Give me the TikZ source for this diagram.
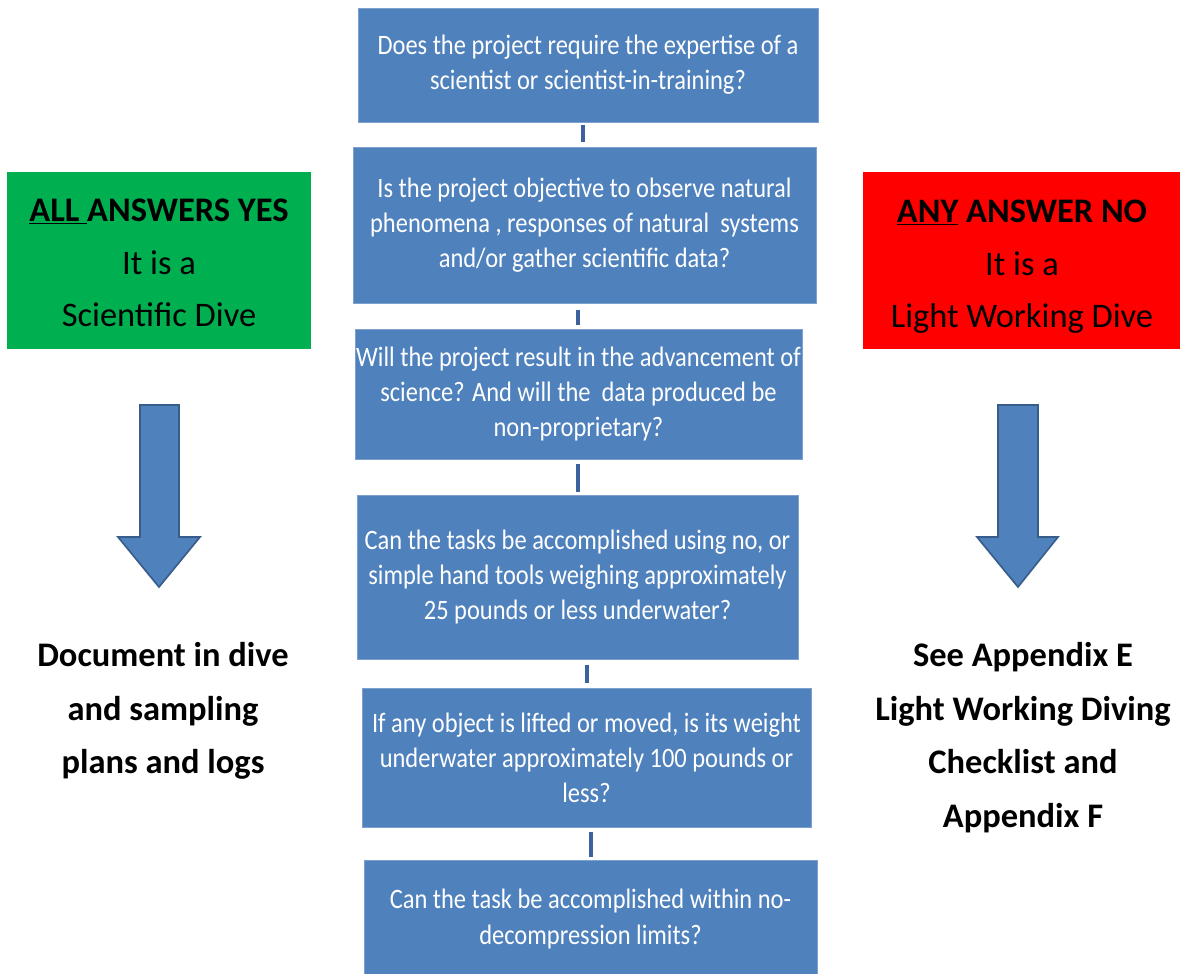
\documentclass[tikz,border=0pt]{standalone}
\usepackage{fontspec}
\setmainfont{Carlito}
\newfontfamily\qfont{Carlito}[FakeStretch=0.87]

\definecolor{qblue}{RGB}{79,129,189}
\definecolor{qedge}{RGB}{125,160,205}
\definecolor{linkblue}{RGB}{60,98,158}
\definecolor{arrowedge}{RGB}{56,93,138}
\definecolor{yesgreen}{RGB}{0,176,80}
\definecolor{nored}{RGB}{255,0,0}

\begin{document}
\begin{tikzpicture}
  [x=0.025cm,y=-0.025cm,
   question/.style={rectangle,fill=qblue,draw=qedge,line width=0.6pt,inner sep=0pt,
     text=white,align=center,font=\qfont\fontsize{20}{25}\selectfont},
   verdict/.style={rectangle,inner sep=0pt,text=black,align=center,
     minimum height=4.425cm,font=\fontsize{24.5}{37.6}\selectfont},
   nextstep/.style={align=center,inner sep=0pt,font=\bfseries\fontsize{24.5}{38}\selectfont},
   qlink/.style={draw=linkblue,line width=2.8pt},
   blockarrow/.style={fill=qblue,draw=arrowedge,line width=1.2pt}]

  \useasboundingbox (0,0) rectangle (1180,974);

  % Preguntas (columna central)
  \node[question,minimum width=11.5cm,minimum height=2.85cm] (q1) at (588,65)
    {Does the project require the expertise of a\\scientist or scientist-in-training?};
  \node[question,minimum width=11.575cm,minimum height=3.9cm] (q2) at (584.5,225)
    {Is the project objective to observe natural\\phenomena , responses of natural\ \ systems\\and/or gather scientific data?};
  \node[question,minimum width=11.175cm,minimum height=3.25cm] (q3) at (578.5,394)
    {Will the project result in the advancement of\\science? And will the\ \ data produced be\\non-proprietary?};
  \node[question,minimum width=11.025cm,minimum height=4.1cm] (q4) at (577.5,577)
    {Can the tasks be accomplished using no, or\\simple hand tools weighing approximately\\25 pounds or less underwater?};
  \node[question,minimum width=11.225cm,minimum height=3.475cm] (q5) at (586.5,757.5)
    {If any object is lifted or moved, is its weight\\underwater approximately 100 pounds or\\less?};
  \node[question,minimum width=11.325cm,minimum height=2.95cm] (q6) at (590.5,919)
    {Can the task be accomplished within no-\\decompression limits?};

  % Trazos cortos entre preguntas
  \draw[qlink] (q1.south) ++(-5,3) -- ++(0,17);
  \draw[qlink] (q2.south) ++(-6.5,7) -- ++(0,15);
  \draw[qlink] (q3.south) ++(-0.5,5) -- ++(0,28);
  \draw[qlink] (q4.south) ++(9.5,6) -- ++(0,18);
  \draw[qlink] (q5.south) ++(4.5,5) -- ++(0,25);

  % Resultados
  \node[verdict,fill=yesgreen,minimum width=7.6cm] (yes) at (159,260.5)
    {\rule{0pt}{19.5pt}\textbf{\underline{ALL }ANSWERS YES}\\It is a\\Scientific Dive};
  \node[verdict,fill=nored,minimum width=7.95cm] (no) at (1022,260.5)
    {\rule{0pt}{25pt}\textbf{\underline{ANY} ANSWER NO}\\It is a\\Light Working Dive};

  % Flechas gruesas
  \draw[blockarrow] (140,405) -- (179,405) -- (179,537) -- (200,537)
    -- (159,587) -- (118,537) -- (140,537) -- cycle;
  \draw[blockarrow] (998,405) -- (1038,405) -- (1038,537) -- (1058,537)
    -- (1018,587) -- (977,537) -- (998,537) -- cycle;

  % Siguiente paso
  \node[nextstep] (yesdoc) at (163,711)
    {Document in dive\\and sampling\\plans and logs};
  \node[nextstep] (noapp) at (1023,737.5)
    {See Appendix E\\Light Working Diving\\Checklist and\\Appendix F};

\end{tikzpicture}
\end{document}
